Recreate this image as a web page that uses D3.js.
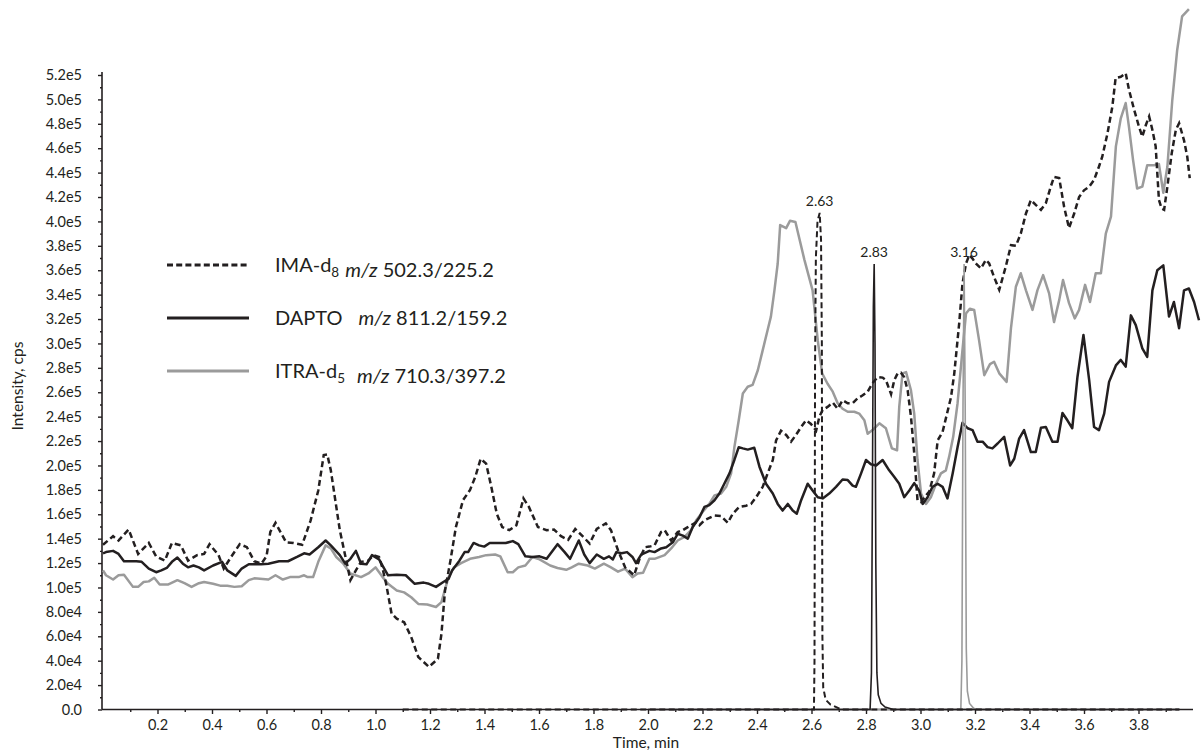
<!DOCTYPE html>
<html>
<head>
<meta charset="utf-8">
<script src="https://cdn.jsdelivr.net/npm/d3@7"></script>
<style>
  html, body { margin: 0; padding: 0; background: #ffffff; }
  svg { display: block; }
  text { font-family: Lato, "Open Sans", sans-serif; fill: #231f20; }
</style>
</head>
<body>
<svg id="chart" width="1202" height="755"></svg>
<script>
// ---------- data: [time (min), intensity (cps)] ----------
// background traces (thick lines)
const imaTrace = [[0.000,135e3],[0.037,142e3],[0.057,138.5e3],[0.094,147.5e3],[0.129,127.5e3],[0.168,136.5e3],[0.195,125.5e3],[0.227,122e3],[0.253,136.5e3],[0.286,134.5e3],[0.312,122e3],[0.345,126.5e3],[0.371,127.5e3],[0.391,135.5e3],[0.424,126.5e3],[0.443,115.5e3],[0.470,125e3],[0.502,135.5e3],[0.528,133e3],[0.555,121.5e3],[0.581,119.5e3],[0.600,125.5e3],[0.614,145.5e3],[0.633,153e3],[0.672,137e3],[0.699,136.5e3],[0.731,135e3],[0.762,155e3],[0.790,179.5e3],[0.810,208.5e3],[0.823,209e3],[0.836,196e3],[0.869,147e3],[0.908,106e3],[0.928,114e3],[0.947,121e3],[0.974,122e3],[0.993,126.5e3],[1.013,125e3],[1.026,115.5e3],[1.039,103e3],[1.059,78.5e3],[1.078,74.5e3],[1.105,71.5e3],[1.131,59.5e3],[1.157,43e3],[1.196,35e3],[1.229,41.5e3],[1.242,62e3],[1.255,97.5e3],[1.275,122e3],[1.295,149.5e3],[1.321,171.5e3],[1.347,180e3],[1.366,190.5e3],[1.386,205.5e3],[1.406,201.5e3],[1.425,182.5e3],[1.445,160.5e3],[1.465,149.5e3],[1.491,147e3],[1.517,151e3],[1.543,173e3],[1.563,166e3],[1.596,149.5e3],[1.628,147e3],[1.655,147.5e3],[1.681,142e3],[1.707,139e3],[1.733,148e3],[1.760,142e3],[1.786,136e3],[1.812,148e3],[1.845,152.5e3],[1.864,147e3],[1.890,130.5e3],[1.916,116.5e3],[1.949,110e3],[1.969,123.5e3],[1.989,133e3],[2.005,133.5e3],[2.024,134.5e3],[2.048,145.5e3],[2.061,147e3],[2.085,138.5e3],[2.109,145.5e3],[2.128,147e3],[2.146,149.5e3],[2.177,153.5e3],[2.189,151e3],[2.207,155e3],[2.244,159e3],[2.268,158.5e3],[2.293,153e3],[2.311,160.5e3],[2.335,166e3],[2.360,167e3],[2.378,168.5e3],[2.397,174e3],[2.421,182.5e3],[2.439,193.5e3],[2.458,204.5e3],[2.470,220.5e3],[2.488,228.5e3],[2.507,225e3],[2.525,219.5e3],[2.543,225e3],[2.562,231.5e3],[2.580,237e3],[2.598,234e3],[2.617,228.5e3],[2.629,240e3],[2.641,245.5e3],[2.659,248e3],[2.678,251.5e3],[2.696,246.5e3],[2.714,253.5e3],[2.733,251e3],[2.751,251e3],[2.769,255e3],[2.788,257.5e3],[2.806,260.5e3],[2.824,267.5e3],[2.843,272.5e3],[2.861,272e3],[2.873,270e3],[2.892,258.5e3],[2.904,270e3],[2.916,275.5e3],[2.928,276e3],[2.940,272.5e3],[2.953,261.5e3],[2.965,240e3],[2.977,210e3],[2.989,171.5e3],[3.002,170e3],[3.014,174e3],[3.032,178.5e3],[3.050,193.5e3],[3.063,220.5e3],[3.081,227.5e3],[3.099,244e3],[3.112,256e3],[3.124,275.5e3],[3.142,316.5e3],[3.154,349e3],[3.167,365.5e3],[3.179,372.5e3],[3.191,369.5e3],[3.203,365.5e3],[3.222,361.5e3],[3.240,368.5e3],[3.252,365.5e3],[3.270,354.5e3],[3.289,344e3],[3.313,363e3],[3.332,380.5e3],[3.350,380e3],[3.368,390e3],[3.387,406.5e3],[3.405,417.5e3],[3.423,413.5e3],[3.442,409.5e3],[3.460,415e3],[3.478,428.5e3],[3.490,436.5e3],[3.509,435.5e3],[3.527,412e3],[3.545,394.5e3],[3.564,406.5e3],[3.582,420e3],[3.600,425.5e3],[3.619,428.5e3],[3.637,434e3],[3.655,445e3],[3.667,453e3],[3.686,472e3],[3.704,494e3],[3.716,517.5e3],[3.735,518.5e3],[3.753,521.5e3],[3.765,508e3],[3.784,491.5e3],[3.802,477.5e3],[3.814,469.5e3],[3.827,479e3],[3.839,486e3],[3.851,475e3],[3.863,461.5e3],[3.875,417.5e3],[3.885,410.5e3],[3.894,409.5e3],[3.906,428.5e3],[3.922,456e3],[3.937,475e3],[3.949,480.5e3],[3.967,466.5e3],[3.979,453e3],[3.988,435.5e3]];

const daptoTrace = [[0.000,128e3],[0.011,129e3],[0.037,130e3],[0.057,127.5e3],[0.077,121.5e3],[0.122,121.5e3],[0.142,121e3],[0.168,115.5e3],[0.195,112.5e3],[0.214,114e3],[0.234,116e3],[0.253,121e3],[0.273,124.5e3],[0.293,119.5e3],[0.312,116.5e3],[0.332,118e3],[0.352,116.5e3],[0.371,114e3],[0.404,118e3],[0.437,121e3],[0.456,114e3],[0.487,109.5e3],[0.509,115.5e3],[0.535,119e3],[0.581,119e3],[0.607,119.5e3],[0.646,121.5e3],[0.679,121.5e3],[0.712,125e3],[0.738,128e3],[0.758,127e3],[0.790,133e3],[0.817,138.5e3],[0.836,134.5e3],[0.869,126.5e3],[0.889,119.5e3],[0.908,123.5e3],[0.928,130e3],[0.947,119.5e3],[0.967,119e3],[0.987,126.5e3],[1.013,123e3],[1.032,115.5e3],[1.046,110e3],[1.078,110.5e3],[1.111,110e3],[1.144,103e3],[1.177,104e3],[1.196,103e3],[1.222,100.5e3],[1.249,104.5e3],[1.268,107e3],[1.281,114e3],[1.308,122e3],[1.327,129e3],[1.340,129e3],[1.360,136.5e3],[1.380,134.5e3],[1.399,133.5e3],[1.419,136.5e3],[1.452,136.5e3],[1.478,136.5e3],[1.504,138e3],[1.524,135.5e3],[1.550,125.5e3],[1.576,125e3],[1.602,125.5e3],[1.628,123.5e3],[1.668,135.5e3],[1.694,129e3],[1.714,123.5e3],[1.746,138.5e3],[1.766,127e3],[1.786,120e3],[1.812,127e3],[1.838,123.5e3],[1.857,125.5e3],[1.871,123e3],[1.884,129e3],[1.903,128e3],[1.923,129e3],[1.943,125e3],[1.956,120e3],[1.975,127e3],[2.005,130e3],[2.024,129e3],[2.048,132e3],[2.067,133e3],[2.091,137e3],[2.109,144e3],[2.128,142.5e3],[2.146,140e3],[2.164,149.5e3],[2.189,157.5e3],[2.207,166e3],[2.225,167.5e3],[2.244,171.5e3],[2.262,177e3],[2.280,185e3],[2.299,193.5e3],[2.317,204.5e3],[2.333,215e3],[2.348,214e3],[2.366,213e3],[2.390,214.5e3],[2.409,199e3],[2.433,185e3],[2.458,177e3],[2.476,168.5e3],[2.494,163e3],[2.513,168.5e3],[2.531,163e3],[2.546,160.5e3],[2.562,171.5e3],[2.586,185e3],[2.604,179.5e3],[2.623,174e3],[2.641,173e3],[2.665,177e3],[2.690,182.5e3],[2.714,188.5e3],[2.733,188e3],[2.751,183.5e3],[2.763,182.5e3],[2.782,193.5e3],[2.800,204.5e3],[2.818,201e3],[2.837,200e3],[2.861,204.5e3],[2.885,196e3],[2.904,190.5e3],[2.922,185e3],[2.940,174e3],[2.959,179.5e3],[2.977,185.5e3],[2.995,179.5e3],[3.008,168.5e3],[3.026,174e3],[3.044,182.5e3],[3.063,185e3],[3.081,182.5e3],[3.099,173e3],[3.118,193.5e3],[3.136,215e3],[3.154,235e3],[3.173,230.5e3],[3.191,229e3],[3.209,219.5e3],[3.228,219.5e3],[3.246,215e3],[3.264,214e3],[3.283,218e3],[3.307,223.5e3],[3.329,200e3],[3.344,205.5e3],[3.362,222e3],[3.380,229e3],[3.405,211e3],[3.423,211e3],[3.442,231e3],[3.460,231.5e3],[3.484,219.5e3],[3.503,219.5e3],[3.521,243e3],[3.539,237e3],[3.557,230.5e3],[3.576,272.5e3],[3.598,307e3],[3.619,270e3],[3.637,231.5e3],[3.655,229e3],[3.674,242.5e3],[3.692,268.5e3],[3.717,282e3],[3.735,286.5e3],[3.753,281e3],[3.772,323e3],[3.790,315e3],[3.814,296e3],[3.832,289e3],[3.851,343.5e3],[3.869,360e3],[3.891,364e3],[3.912,322e3],[3.930,334e3],[3.949,312.5e3],[3.967,343.5e3],[3.985,345e3],[4.004,334e3],[4.022,319e3]];

const itraTrace = [[0.000,114e3],[0.011,110e3],[0.037,106.5e3],[0.057,110e3],[0.077,110.5e3],[0.110,100.5e3],[0.129,100.5e3],[0.149,104.5e3],[0.168,105e3],[0.188,108e3],[0.208,102.5e3],[0.240,102.5e3],[0.273,106e3],[0.299,103.5e3],[0.325,100.5e3],[0.352,103.5e3],[0.371,104.5e3],[0.404,103e3],[0.430,101.5e3],[0.456,101.5e3],[0.482,100.5e3],[0.509,101e3],[0.535,106e3],[0.555,107.5e3],[0.607,106.5e3],[0.633,110e3],[0.660,106.5e3],[0.686,108.5e3],[0.718,108.5e3],[0.738,110e3],[0.751,108.5e3],[0.771,108.5e3],[0.790,121e3],[0.817,134.5e3],[0.836,132e3],[0.856,125e3],[0.882,119.5e3],[0.908,111.5e3],[0.947,108.5e3],[0.974,111.5e3],[1.000,116.5e3],[1.026,108.5e3],[1.046,103e3],[1.078,97.5e3],[1.105,96e3],[1.131,92e3],[1.157,86.5e3],[1.190,86e3],[1.222,84e3],[1.242,88e3],[1.268,108.5e3],[1.288,116.5e3],[1.314,120e3],[1.347,123.5e3],[1.380,125e3],[1.406,126.5e3],[1.439,127e3],[1.458,125.5e3],[1.485,112.5e3],[1.504,112.5e3],[1.524,116.5e3],[1.550,118e3],[1.576,125e3],[1.602,123e3],[1.641,118e3],[1.668,116e3],[1.700,114.5e3],[1.720,116.5e3],[1.746,119.5e3],[1.779,118e3],[1.805,115.5e3],[1.838,119.5e3],[1.864,116.5e3],[1.890,113e3],[1.916,115.5e3],[1.943,108.5e3],[1.962,111.5e3],[1.982,112e3],[2.005,123.5e3],[2.024,123.5e3],[2.061,126.5e3],[2.085,132e3],[2.109,138.5e3],[2.134,141.5e3],[2.158,147e3],[2.177,155e3],[2.201,162e3],[2.225,168.5e3],[2.244,175.5e3],[2.268,177e3],[2.287,182.5e3],[2.305,193.5e3],[2.317,215e3],[2.333,237e3],[2.348,259e3],[2.366,264.5e3],[2.384,266e3],[2.403,278e3],[2.421,294.5e3],[2.439,311e3],[2.451,322e3],[2.464,343.5e3],[2.476,365.5e3],[2.485,397e3],[2.507,394.5e3],[2.521,400.5e3],[2.541,399.5e3],[2.574,368.5e3],[2.604,343.5e3],[2.623,302.5e3],[2.639,275.5e3],[2.659,267e3],[2.678,260.5e3],[2.696,251e3],[2.714,246.5e3],[2.733,244e3],[2.757,244e3],[2.775,242.5e3],[2.794,237e3],[2.806,226e3],[2.824,229e3],[2.849,234.5e3],[2.873,230.5e3],[2.895,214e3],[2.914,212.5e3],[2.922,248e3],[2.934,275.5e3],[2.947,276.5e3],[2.965,261.5e3],[2.977,242.5e3],[2.989,204.5e3],[3.002,177e3],[3.020,168.5e3],[3.038,174e3],[3.057,185e3],[3.075,193.5e3],[3.093,196e3],[3.105,207e3],[3.120,223.5e3],[3.136,251e3],[3.154,294.5e3],[3.167,324.5e3],[3.181,328.5e3],[3.197,327.5e3],[3.215,302.5e3],[3.234,274e3],[3.255,283e3],[3.270,285e3],[3.289,275.5e3],[3.316,268.5e3],[3.332,312.5e3],[3.350,346.5e3],[3.368,357.5e3],[3.387,343.5e3],[3.411,327.5e3],[3.429,343.5e3],[3.450,356e3],[3.472,341e3],[3.490,317.5e3],[3.509,335.5e3],[3.523,352e3],[3.545,333e3],[3.566,320.5e3],[3.582,327.5e3],[3.604,348e3],[3.622,334e3],[3.643,357.5e3],[3.662,357.5e3],[3.680,390e3],[3.699,404e3],[3.717,461.5e3],[3.735,484.5e3],[3.753,497e3],[3.765,477.5e3],[3.780,450.5e3],[3.795,427e3],[3.814,428.5e3],[3.832,446e3],[3.857,446e3],[3.875,447e3],[3.891,423.5e3],[3.906,445e3],[3.924,499.5e3],[3.942,540.5e3],[3.960,568e3],[3.985,574e3]];

// analyte peak traces (thin lines)
const imaPeak = [[1.100,0],[2.609,0],[2.611,40e3],[2.612,150e3],[2.613,280e3],[2.616,370e3],[2.622,400e3],[2.630,407e3],[2.635,385e3],[2.638,300e3],[2.639,160e3],[2.640,60e3],[2.643,18e3],[2.652,8e3],[2.670,4e3],[2.710,0],[3.950,0]];
const daptoPeak = [[2.000,0],[2.815,0],[2.820,30e3],[2.824,200e3],[2.827,330e3],[2.830,365e3],[2.833,300e3],[2.836,120e3],[2.840,30e3],[2.845,12e3],[2.855,5e3],[2.870,2e3],[2.900,0],[3.950,0]];
const itraPeak = [[2.080,0],[3.148,0],[3.152,40e3],[3.156,250e3],[3.160,365e3],[3.164,250e3],[3.168,50e3],[3.172,15e3],[3.180,5e3],[3.195,1e3],[3.210,0],[3.940,0]];

// legend entries
const legendNames = ["IMA-d", "DAPTO", "ITRA-d"];
const legendSubscripts = ["8", "", "5"];
const legendTransitions = ["502.3/225.2", "811.2/159.2", "710.3/397.2"];

// ticks
const xTicks = [0.2,0.4,0.6,0.8,1.0,1.2,1.4,1.6,1.8,2.0,2.2,2.4,2.6,2.8,3.0,3.2,3.4,3.6,3.8];
const xMinorTicks = [0.1,0.3,0.5,0.7,0.9,1.1,1.3,1.5,1.7,1.9,2.1,2.3,2.5,2.7,2.9,3.1,3.3,3.5,3.7,3.9];
const yTicks = [0,2e4,4e4,6e4,8e4,1e5,1.2e5,1.4e5,1.6e5,1.8e5,2e5,2.2e5,2.4e5,2.6e5,2.8e5,3e5,3.2e5,3.4e5,3.6e5,3.8e5,4e5,4.2e5,4.4e5,4.6e5,4.8e5,5e5,5.2e5];
const yMinorTicks = [1e4,3e4,5e4,7e4,9e4,1.1e5,1.3e5,1.5e5,1.7e5,1.9e5,2.1e5,2.3e5,2.5e5,2.7e5,2.9e5,3.1e5,3.3e5,3.5e5,3.7e5,3.9e5,4.1e5,4.3e5,4.5e5,4.7e5,4.9e5,5.1e5];

// ---------- drawing ----------
const INK = "#231f20", GREY = "#9b9b9b";
const svg = d3.select("#chart");
svg.append("rect").attr("width", 1202).attr("height", 755).attr("fill", "#fff");

const x = d3.scaleLinear().domain([0, 4.0]).range([103, 1193]);
const y = d3.scaleLinear().domain([0, 520000]).range([709.5, 75]);

// scientific tick labels: 0.0, 2.0e4, 1.2e5 ...
function sci(v) {
  if (v === 0) return "0.0";
  const e = Math.floor(Math.log10(v) + 1e-9);
  return (v / Math.pow(10, e)).toFixed(1) + "e" + e;
}

// y axis
const yAxisG = svg.append("g").attr("transform", "translate(102,0)");
yAxisG.call(d3.axisLeft(y).tickValues(yTicks).tickSize(4).tickPadding(16).tickFormat(sci).tickSizeOuter(0));
yAxisG.append("g").call(d3.axisLeft(y).tickValues(yMinorTicks).tickSize(2).tickFormat("").tickSizeOuter(0))
  .select(".domain").remove();
yAxisG.select(".domain").remove();

// x axis
const xAxisG = svg.append("g").attr("transform", "translate(0,709.5)");
xAxisG.call(d3.axisBottom(x).tickValues(xTicks).tickSize(4.5).tickPadding(6).tickFormat(d3.format(".1f")).tickSizeOuter(0));
xAxisG.append("g").call(d3.axisBottom(x).tickValues(xMinorTicks).tickSize(2.5).tickFormat("").tickSizeOuter(0))
  .select(".domain").remove();
xAxisG.select(".domain").remove();

svg.selectAll(".tick line").attr("stroke", INK).attr("stroke-width", 1.4);
svg.selectAll(".tick text").attr("font-size", "14.5px").attr("fill", INK).style("font-family", "Lato, sans-serif");

// axis lines
svg.append("line").attr("x1", 102).attr("x2", 102).attr("y1", y(0)).attr("y2", y(520000) - 3)
  .attr("stroke", INK).attr("stroke-width", 1.6);
svg.append("line").attr("x1", 102).attr("x2", x(4.0)).attr("y1", y(0)).attr("y2", y(0))
  .attr("stroke", INK).attr("stroke-width", 1.6);

// axis titles
svg.append("text").attr("x", 646).attr("y", 748).attr("text-anchor", "middle")
  .attr("font-size", "15.5px").text("Time, min");
svg.append("text").attr("transform", "translate(23,386) rotate(-90)").attr("text-anchor", "middle")
  .attr("font-size", "15.5px").text("Intensity, cps");

const line = d3.line().x(d => x(d[0])).y(d => y(d[1]));

// background traces
svg.append("path").datum(itraTrace).attr("d", line).attr("fill", "none")
  .attr("stroke", GREY).attr("stroke-width", 2.5).attr("stroke-linejoin", "round");
svg.append("path").datum(daptoTrace).attr("d", line).attr("fill", "none")
  .attr("stroke", INK).attr("stroke-width", 2.5).attr("stroke-linejoin", "round");
svg.append("path").datum(imaTrace).attr("d", line).attr("fill", "none")
  .attr("stroke", INK).attr("stroke-width", 2.5).attr("stroke-dasharray", "6,3.5");

// analyte peaks
svg.append("path").datum(itraPeak).attr("d", line).attr("fill", "none")
  .attr("stroke", GREY).attr("stroke-width", 1.6);
svg.append("path").datum(daptoPeak).attr("d", line).attr("fill", "none")
  .attr("stroke", INK).attr("stroke-width", 1.6);
svg.append("path").datum(imaPeak).attr("d", line).attr("fill", "none")
  .attr("stroke", INK).attr("stroke-width", 2).attr("stroke-dasharray", "6,3.5");

// retention-time labels at each apex
[imaPeak, daptoPeak, itraPeak].forEach(tr => {
  const apex = tr.reduce((a, b) => (b[1] > a[1] ? b : a));
  svg.append("text").attr("x", x(apex[0])).attr("y", y(apex[1]) - 7)
    .attr("text-anchor", "middle").attr("font-size", "14px").text(apex[0].toFixed(2));
});

// legend
const legendRows = [265, 318, 371];
const legendStyles = [
  { stroke: INK, dash: "6,3.2", gap: 6 },
  { stroke: INK, dash: null, gap: 16 },
  { stroke: GREY, dash: null, gap: 12 }
];
legendNames.forEach((name, i) => {
  const ly = legendRows[i], st = legendStyles[i];
  svg.append("line").attr("x1", 167).attr("x2", 249).attr("y1", ly).attr("y2", ly)
    .attr("stroke", st.stroke).attr("stroke-width", 3)
    .attr("stroke-dasharray", st.dash);
  const t = svg.append("text").attr("x", 275).attr("y", ly + 6.5).attr("font-size", "20px");
  t.append("tspan").text(name);
  if (legendSubscripts[i]) {
    t.append("tspan").attr("font-size", "13.5px").attr("dy", 5).text(legendSubscripts[i]);
    t.append("tspan").attr("dy", -5).text("");
  }
  t.append("tspan").attr("dx", st.gap).attr("font-style", "italic").text("m/z");
  t.append("tspan").text("\u00a0" + legendTransitions[i]);
});
</script>
</body>
</html>
